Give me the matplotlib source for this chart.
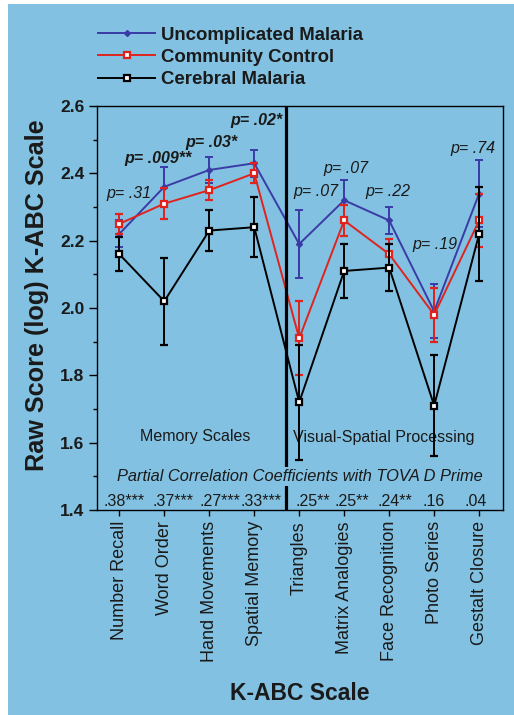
import matplotlib
matplotlib.use("Agg")
import matplotlib.pyplot as plt
from matplotlib.patches import Rectangle
from matplotlib.lines import Line2D
import matplotlib.transforms as mtrans
import numpy as np

plt.rcParams['font.family'] = ['Liberation Sans', 'DejaVu Sans']

categories = ["Number Recall", "Word Order", "Hand Movements", "Spatial Memory",
              "Triangles", "Matrix Analogies", "Face Recognition", "Photo Series",
              "Gestalt Closure"]
uncomplicated = [2.22, 2.36, 2.41, 2.43, 2.19, 2.32, 2.26, 1.99, 2.34]
uncomplicated_err = [0.04, 0.06, 0.04, 0.04, 0.10, 0.06, 0.04, 0.08, 0.10]
community = [2.25, 2.31, 2.35, 2.40, 1.91, 2.26, 2.16, 1.98, 2.26]
community_err = [0.03, 0.045, 0.03, 0.03, 0.11, 0.045, 0.045, 0.08, 0.08]
cerebral = [2.16, 2.02, 2.23, 2.24, 1.72, 2.11, 2.12, 1.71, 2.22]
cerebral_err = [0.05, 0.13, 0.06, 0.09, 0.17, 0.08, 0.07, 0.15, 0.14]
series_names = ["Uncomplicated Malaria", "Community Control", "Cerebral Malaria"]
p_labels = ["p= .31", "p= .009**", "p= .03*", "p= .02*", "p= .07", "p= .07",
            "p= .22", "p= .19", "p= .74"]
p_bold = [False, True, True, True, False, False, False, False, False]
corr_labels = [".38***", ".37***", ".27***", ".33***", ".25**", ".25**", ".24**", ".16", ".04"]

# layout (text placement in data coords / pixel offsets)
p_xpos = [1.22, 1.86, 3.04, 4.04, 5.37, 6.04, 6.97, 8.02, 8.86]
p_ypos = [2.34, 2.445, 2.493, 2.556, 2.345, 2.415, 2.345, 2.19, 2.475]
corr_offsets_px = [-16, -12, -10, -14, -4, -10, -12, -12, -15]

BG = "#82c1e1"
BLUE = "#3b3ba6"
RED = "#e0231d"
TXT = "#1a1a1a"

W, H = 514, 715
fig = plt.figure(figsize=(W / 100, H / 100), dpi=100)
fig.patch.set_facecolor("white")
fig.patches.append(Rectangle((8 / W, 0), 1, 1 - 4 / H,
                             transform=fig.transFigure, facecolor=BG,
                             edgecolor="none", zorder=-10))

ax = fig.add_axes([97 / W, 1 - 510 / H, (503 - 97) / W, (510 - 106) / H])
ax.set_facecolor(BG)
x = np.arange(1, len(categories) + 1)

common = dict(lw=1.4, capsize=3, capthick=1.4, elinewidth=1.4)
ax.errorbar(x, uncomplicated, yerr=uncomplicated_err, color=BLUE,
            marker="D", ms=3, mfc=BLUE, mec=BLUE, zorder=3, **common)
ax.errorbar(x, community, yerr=community_err, color=RED,
            marker="s", ms=5, mfc="white", mec=RED, mew=1.6, zorder=4, **common)
ax.errorbar(x, cerebral, yerr=cerebral_err, color="black",
            marker="s", ms=5, mfc="white", mec="black", mew=1.6, zorder=5, **common)

ax.axvline(4.70, color="black", lw=2.3, zorder=6)

ax.set_xlim(0.505, 9.53)
ax.set_ylim(1.4, 2.6)
ax.set_yticks(np.arange(1.4, 2.61, 0.2))
ax.set_yticks(np.arange(1.5, 2.6, 0.2), minor=True)
ax.set_yticklabels([f"{v:.1f}" for v in np.arange(1.4, 2.61, 0.2)],
                   fontsize=12.5, fontweight="bold", color=TXT)
ax.set_xticks(x)
ax.set_xticklabels(categories, rotation=90, fontsize=13, color=TXT)
ax.tick_params(axis="y", which="major", length=6, width=1, pad=3)
ax.tick_params(axis="y", which="minor", length=3, width=1)
ax.tick_params(axis="x", length=4, width=1, pad=4)
for s in ax.spines.values():
    s.set_linewidth(1)

ax.set_ylabel("Raw Score (log) K-ABC Scale", fontsize=18.2, fontweight="bold",
              color=TXT)
ax.yaxis.set_label_coords(-0.1186, 0.532)
ax.set_xlabel("K-ABC Scale", fontsize=16.5, fontweight="bold", labelpad=14,
              color=TXT)

for lab, b, xp, yp in zip(p_labels, p_bold, p_xpos, p_ypos):
    ax.text(xp, yp, lab, ha="center", va="center", fontsize=11.5,
            style="italic", fontweight="bold" if b else "normal", color=TXT)

ax.text(2.68, 1.618, "Memory Scales", ha="center", va="center", fontsize=11.5,
        color=TXT)
ax.text(6.89, 1.615, "Visual-Spatial Processing", ha="center", va="center",
        fontsize=11.5, color=TXT)
ax.text(5.02, 1.50, "Partial Correlation Coefficients with TOVA D Prime",
        ha="center", va="center", fontsize=11.8, style="italic", color=TXT,
        zorder=8, bbox=dict(facecolor=BG, edgecolor="none", pad=1.5))

for xi, lab, o in zip(x, corr_labels, corr_offsets_px):
    off = mtrans.ScaledTranslation(o / 100, 0, fig.dpi_scale_trans)
    ax.text(xi, 1.404, lab, ha="left", va="bottom", fontsize=11.5,
            color=TXT, transform=ax.transData + off)

handles = [
    Line2D([], [], color=BLUE, lw=1.4, marker="D", ms=3, mfc=BLUE, mec=BLUE),
    Line2D([], [], color=RED, lw=1.4, marker="s", ms=5, mfc="white", mec=RED, mew=1.6),
    Line2D([], [], color="black", lw=1.4, marker="s", ms=5, mfc="white",
           mec="black", mew=1.6),
]
leg = fig.legend(handles, series_names, loc="upper left",
                 bbox_to_anchor=(94 / W, 1 - 23 / H), frameon=False,
                 prop={"weight": "bold", "size": 13.4},
                 handlelength=3.1, handletextpad=0.3, labelspacing=0.28,
                 borderaxespad=0, borderpad=0.2)
for t in leg.get_texts():
    t.set_color(TXT)

fig.savefig("out.png", dpi=100, facecolor=fig.get_facecolor())
